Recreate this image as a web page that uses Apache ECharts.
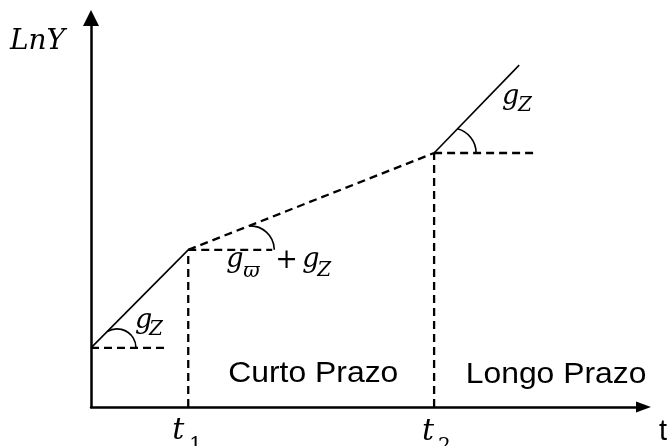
<!DOCTYPE html>
<html>
<head>
<meta charset="utf-8">
<script src="https://cdn.jsdelivr.net/npm/echarts@6/dist/echarts.min.js"></script>
<style>
  html, body { margin: 0; padding: 0; background: #ffffff; }
  #chart { width: 667px; height: 446px; }
</style>
</head>
<body>
<div id="chart"></div>
<script>
// Growth path of LnY over time t, in axis units (both axes run 0..100)
const startPoint = [0, 15.2];     // intercept on the LnY axis
const kinkT1 = [17.6, 40.4];      // end of the short-run phase (t1)
const kinkT2 = [62.1, 65.3];      // start of the long-run phase (t2)
const pathEnd = [77.5, 87.9];     // last point of the long-run line
// x where each horizontal reference dash stops
const refDashEndX = [13.6, 32.8, 80.9];
const axisMax = 100;

// Phase names and symbols
const phaseNames = ['Curto Prazo', 'Longo Prazo'];
const axisNames = { x: 't', y: 'LnY' };

const INK = '#000000';
const DASH = [8, 5];
const MATH = '"DejaVu Serif", "Liberation Serif", serif';
const SANS = '"Liberation Sans", Arial, sans-serif';

function segment(a, b, type, width) {
  return {
    type: 'line',
    data: [a, b],
    symbol: 'none',
    silent: true,
    animation: false,
    lineStyle: { color: INK, width: width, type: type }
  };
}

// Angle arcs: circle centred d px right of the vertex, radius r px,
// swept from the slanted line down to the horizontal dash.
const arcGeom = [
  { d: 26, r: 19 },
  { d: 62, r: 24 },
  { d: 17, r: 25 }
];

// Text pieces placed relative to an anchor point (dx, baseline offset in px)
const labelAnchors = [
  startPoint,
  kinkT1,
  kinkT2,
  [kinkT1[0], 0],
  [kinkT2[0], 0]
];
const labelLayout = [
  [
    { text: 'g', dx: 44, base: -17, size: 27, family: MATH, italic: true },
    { text: 'Z', dx: 58, base: -11, size: 20, family: MATH, italic: true }
  ],
  [
    { text: 'g', dx: 38, base: 20, size: 27, family: MATH, italic: true },
    { text: '\u03D6', dx: 55, base: 29, size: 20, family: MATH, italic: true },
    { text: '+', dx: 87, base: 21, size: 27, family: MATH, italic: false },
    { text: 'g', dx: 114, base: 20, size: 27, family: MATH, italic: true },
    { text: 'Z', dx: 129, base: 28, size: 20, family: MATH, italic: true }
  ],
  [
    { text: 'g', dx: 68, base: -47, size: 27, family: MATH, italic: true },
    { text: 'Z', dx: 84, base: -40, size: 20, family: MATH, italic: true }
  ],
  [
    { text: 't', dx: -16, base: 35, size: 30, family: MATH, italic: true },
    { text: '1', dx: 1, base: 46, size: 20, family: MATH, italic: false },
    { text: phaseNames[0], dx: 125, base: -23, size: 29, family: SANS, italic: false, align: 'center', sx: 1.1 }
  ],
  [
    { text: 't', dx: -12, base: 36, size: 30, family: MATH, italic: true },
    { text: '2', dx: 4, base: 47, size: 20, family: MATH, italic: false },
    { text: phaseNames[1], dx: 122, base: -22, size: 29, family: SANS, italic: false, align: 'center', sx: 1.1 }
  ]
];

const chart = echarts.init(document.getElementById('chart'), null, { renderer: 'canvas' });

chart.setOption({
  animation: false,
  backgroundColor: '#ffffff',
  grid: { left: 91, right: 23.5, top: 18, bottom: 39, containLabel: false, outerBoundsMode: 'none' },
  xAxis: {
    type: 'value', min: 0, max: axisMax,
    axisLine: { show: true, symbol: ['none', 'triangle'], symbolSize: [11, 15],
                lineStyle: { color: INK, width: 2.5 } },
    axisTick: { show: false }, axisLabel: { show: false }, splitLine: { show: false },
    name: axisNames.x, nameLocation: 'end', nameGap: 15.5,
    nameTextStyle: { color: INK, fontFamily: SANS, fontSize: 29, align: 'left',
                     verticalAlign: 'top', padding: [10, 0, 0, 0] }
  },
  yAxis: {
    type: 'value', min: 0, max: axisMax,
    axisLine: { show: true, symbol: ['none', 'triangle'], symbolSize: [16, 16],
                lineStyle: { color: INK, width: 2.5 } },
    axisTick: { show: false }, axisLabel: { show: false }, splitLine: { show: false },
    name: axisNames.y, nameLocation: 'end', nameGap: -24,
    nameTextStyle: { color: INK, fontFamily: MATH, fontStyle: 'italic', fontSize: 28,
                     align: 'right', verticalAlign: 'middle', padding: [0, 26, 0, 0] }
  },
  series: [
    segment(startPoint, kinkT1, 'solid', 1.6),
    segment(kinkT1, kinkT2, DASH, 2.3),
    segment(kinkT2, pathEnd, 'solid', 1.6),
    segment(startPoint, [refDashEndX[0], startPoint[1]], DASH, 2.3),
    segment(kinkT1, [refDashEndX[1], kinkT1[1]], DASH, 2.3),
    segment(kinkT2, [refDashEndX[2], kinkT2[1]], DASH, 2.3),
    segment([kinkT1[0], 0], kinkT1, DASH, 2.3),
    segment([kinkT2[0], 0], kinkT2, DASH, 2.3),
    {
      type: 'custom',
      silent: true,
      animation: false,
      data: [
        [...startPoint, ...kinkT1],
        [...kinkT1, ...kinkT2],
        [...kinkT2, ...pathEnd]
      ],
      encode: { x: 0, y: 1 },
      renderItem: function (params, api) {
        const v = api.coord([api.value(0), api.value(1)]);
        const q = api.coord([api.value(2), api.value(3)]);
        const g = arcGeom[params.dataIndex];
        const len = Math.hypot(q[0] - v[0], q[1] - v[1]);
        const ux = (q[0] - v[0]) / len, uy = (q[1] - v[1]) / len;
        const b = g.d * ux;
        const disc = b * b - (g.d * g.d - g.r * g.r);
        const t = disc > 0 ? b + Math.sqrt(disc) : b;
        const px = v[0] + t * ux, py = v[1] + t * uy;
        const cx = v[0] + g.d, cy = v[1];
        const start = Math.atan2(py - cy, px - cx);
        return {
          type: 'arc',
          shape: { cx: cx, cy: cy, r: g.r, startAngle: start, endAngle: 0, clockwise: true },
          style: { stroke: INK, fill: null, lineWidth: 1.6 }
        };
      }
    },
    {
      type: 'custom',
      silent: true,
      animation: false,
      data: labelAnchors,
      encode: { x: 0, y: 1 },
      renderItem: function (params, api) {
        const p = api.coord([api.value(0), api.value(1)]);
        const parts = labelLayout[params.dataIndex];
        return {
          type: 'group',
          x: p[0], y: p[1],
          children: parts.map(function (s) {
            return {
              type: 'text',
              x: s.dx,
              y: s.base - 0.35 * s.size,
              scaleX: s.sx || 1,
              style: {
                text: s.text,
                font: (s.italic ? 'italic ' : '') + s.size + 'px ' + s.family,
                fill: INK,
                align: s.align || 'left',
                verticalAlign: 'middle'
              }
            };
          })
        };
      }
    }
  ]
});
</script>
</body>
</html>
